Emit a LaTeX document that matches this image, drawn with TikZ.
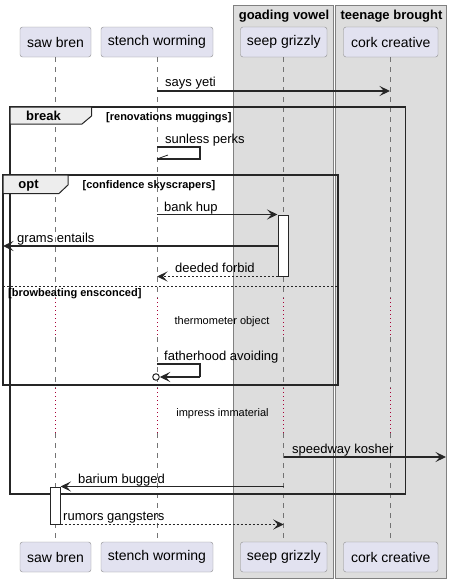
\documentclass[tikz,border=0pt]{standalone}
\usepackage{fontspec}
\setmainfont{Liberation Sans}
\usetikzlibrary{arrows.meta}

\definecolor{partfill}{HTML}{E2E2F0}
\definecolor{grpfill}{HTML}{DDDDDD}
\definecolor{delayred}{HTML}{A80036}

\begin{document}
\begin{tikzpicture}[x=1pt, y=-1pt,
	part/.style={draw=black!45, fill=partfill, rounded corners=2.5pt, minimum height=30pt, inner sep=0pt, font=\fontsize{14}{16}\selectfont},
	grp/.style={draw=black!50, fill=grpfill, line width=0.8pt},
	grptitle/.style={font=\fontsize{13}{15}\selectfont\bfseries, anchor=base, inner sep=0pt},
	life/.style={draw=black!55, line width=0.8pt, dash pattern=on 5pt off 5pt},
	delayline/.style={draw=delayred, line width=1pt, dash pattern=on 1pt off 3pt},
	msg/.style={draw=black!85, line width=1.1pt, -{Stealth[length=10.5pt, width=10pt, inset=4.5pt]}},
	reply/.style={msg, dash pattern=on 2pt off 2pt},
	lbl/.style={anchor=base west, inner sep=0pt, font=\fontsize{13}{15}\selectfont},
	delaytxt/.style={inner sep=0pt, font=\fontsize{11}{13}\selectfont},
	frm/.style={draw=black!85, line width=1.6pt},
	tabbox/.style={draw=black!85, line width=1pt, fill=black!7},
	frmname/.style={anchor=base, inner sep=0pt, font=\fontsize{13}{15}\selectfont\bfseries},
	guard/.style={anchor=base west, inner sep=0pt, font=\fontsize{11}{13}\selectfont\bfseries},
	act/.style={draw=black!85, fill=white, line width=1pt, minimum width=10pt, inner sep=0pt}]
	\useasboundingbox (0,0) rectangle (451,582);

	% Boxes
	\draw[grp] (233,5) rectangle (333,578);
	\draw[grp] (335,5) rectangle (446,578);
	\node[grptitle] (gv) at (284,19) {goading vowel};
	\node[grptitle] (tb) at (391.5,19) {teenage brought};

	% Participants
	\node[part, minimum width=71pt] (sb-t) at (55.5,42) {saw bren};
	\node[part, minimum width=112pt] (sw-t) at (157,42) {stench worming};
	\node[part, minimum width=86.5pt] (sg-t) at (283.75,42) {seep grizzly};
	\node[part, minimum width=94.5pt] (cc-t) at (390.75,42) {cork creative};

	\node[part, minimum width=71pt] (sb-b) at (55.5,557) {saw bren};
	\node[part, minimum width=112pt] (sw-b) at (157,557) {stench worming};
	\node[part, minimum width=86.5pt] (sg-b) at (283.75,557) {seep grizzly};
	\node[part, minimum width=94.5pt] (cc-b) at (390.75,557) {cork creative};

	% Lifelines
	\foreach \p/\x in {sb/55, sw/157, sg/283, cc/390} {
		\draw[life] (\x,57) -- (\x,298);
		\draw[delayline] (\x,298) -- (\x,337);
		\draw[life] (\x,337) -- (\x,388);
		\draw[delayline] (\x,388) -- (\x,433);
		\draw[life] (\x,433) -- (\x,541.5);
	}

	% says yeti
	\draw[msg] (157,91) -- (390,91);
	\node[lbl] (m1) at (165,86) {says yeti};

	% break frame
	\draw[frm] (10,107) rectangle (405.5,494);
	\draw[tabbox] (10,107) -- (91.5,107) -- (91.5,116) -- (82,124) -- (10,124) -- cycle;
	\node[frmname] (brk) at (43.5,120) {break};
	\node[guard] (brkg) at (106,120) {[renovations muggings]};

	% sunless perks
	\node[lbl] (m2) at (165,143) {sunless perks};
	\draw[draw=black!85, line width=1.1pt] (157,147) -- (200,147) -- (200,159) -- (157,159);
	\draw[draw=black!85, line width=0.8pt] (157,159) -- ++(11,-4);

	% opt frame
	\draw[frm] (3,175) rectangle (338,385);
	\draw[tabbox] (3,175) -- (68,175) -- (68,185) -- (59,193.5) -- (3,193.5) -- cycle;
	\node[frmname] (opt) at (28.5,188) {opt};
	\node[guard] (optg) at (82.5,188) {[confidence skyscrapers]};

	% activation seep grizzly
	\node[act, minimum height=61pt] (a1) at (283,245.5) {};
	\coordinate (lost) at (3,246);

	\draw[msg] (sw-t |- a1.north) -- (a1.north west);
	\node[lbl] (m3) at (164,211) {bank hup};

	\draw[msg] (a1.west |- lost) -- (lost);
	\node[lbl] (m4) at (17,242) {grams entails};

	\draw[reply] (a1.south west) -- (sw-t |- a1.south);
	\node[lbl] (m5) at (175,272) {deeded forbid};

	% else
	\draw[draw=black!85, line width=0.8pt, dash pattern=on 2pt off 2pt] (3,286) -- (338,286);
	\node[guard] (elseg) at (8,296) {[browbeating ensconced]};

	\node[delaytxt] (d1) at (222,322) {thermometer object};

	% fatherhood avoiding
	\node[lbl] (m6) at (164,360) {fatherhood avoiding};
	\node[circle, draw=black!85, fill=white, line width=1pt, inner sep=0pt, minimum size=6.5pt] (fo) at (156,377) {};
	\draw[draw=black!85, line width=1.1pt] (157,364) -- (200,364) -- (200,377);
	\draw[msg] (200,377) -- (fo.east);

	\node[delaytxt] (d2) at (222.5,414) {impress immaterial};

	% speedway kosher
	\coordinate (out) at (446,457);
	\draw[msg] (sg-t |- out) -- (out);
	\node[lbl] (m7) at (292,453) {speedway kosher};

	% activation saw bren
	\node[act, minimum height=37pt] (a2) at (55,505.5) {};

	\draw[msg] (sg-t |- a2.north) -- (a2.north east);
	\node[lbl] (m8) at (78,483) {barium bugged};

	\draw[reply] (a2.south east) -- (sg-t |- a2.south);
	\node[lbl] (m9) at (63,520) {rumors gangsters};
\end{tikzpicture}
\end{document}
